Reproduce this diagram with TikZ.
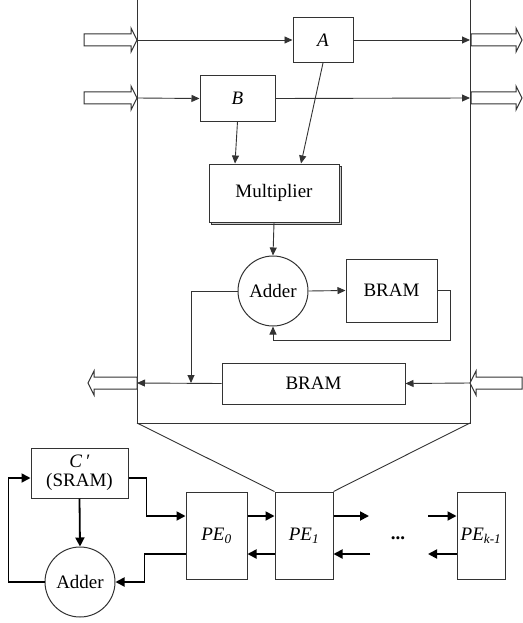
\documentclass[tikz,border=0pt]{standalone}
\usepackage{fontspec}
\setmainfont{Liberation Serif}
\usetikzlibrary{arrows.meta,positioning,calc,shadows}
\tikzset{
  box/.style   = {draw=black!80, line width=1pt, fill=white, inner sep=0pt,
                  font=\fontsize{19}{21}\selectfont},
  adder/.style = {box, circle, minimum size=70pt},
  wire/.style  = {line width=0.9pt, draw=black!80},
  arr/.style   = {wire, -{Triangle[length=8pt,width=7pt]}},
  barr/.style  = {line width=1.8pt, -{Triangle[length=9pt,width=9pt]}},
  fat/.style   = {draw=black!80, line width=1pt, fill=white},
}
% hollow port arrow: tip x, tip y, direction (1 or -1), length
\newcommand{\fatarrow}[4]{%
  \draw[fat,shift={(#1,#2)},xscale=#3] (0,0) -- (-6,-12) -- (-6,-6) -- (-#4,-6)
    -- (-#4,6) -- (-6,6) -- (-6,12) -- cycle;}

\begin{document}
\begin{tikzpicture}[x=1pt,y=-1pt]
  \useasboundingbox (0,0) rectangle (522,623);
  % one PE, zoomed
  \draw[wire] (137,0) -- (137,423) -- (470,423) -- (470,0);
  \node[box, minimum width=60pt, minimum height=45pt] (A) at (323,40) {\textit{A}};
  \node[box, minimum width=75pt, minimum height=45pt] (B) at (237.5,98.5) {\textit{B}};
  \node[box, minimum width=130pt, minimum height=58pt,
        copy shadow={shadow xshift=2.5pt, shadow yshift=-2.5pt, fill=gray!40}] (mult) at (274,193) {Multiplier};
  \node[adder] (add) at (273,291) {Adder};
  \node[box, minimum width=91pt, minimum height=63pt] (bram) at (391.5,290.5) {BRAM};
  \node[box, minimum width=183pt, minimum height=41pt] (obram) at (313.5,383.5) {BRAM};
  \coordinate (inA) at (137,40);   \coordinate (outA) at (470,40);
  \coordinate (inB) at (137,98);   \coordinate (outB) at (470,98);
  \coordinate (inC) at (470,383);  \coordinate (outC) at (137,383);
  \coordinate (tap) at (191,383);
  \fatarrow{137}{40}{1}{53}
  \fatarrow{137}{98}{1}{53}
  \fatarrow{522}{40}{1}{51}
  \fatarrow{522}{98}{1}{51}
  \fatarrow{88}{383}{-1}{49}
  \fatarrow{470}{383}{-1}{52}
  \draw[arr] (inA) -- (A.west);
  \draw[arr] (A.east) -- (outA);
  \draw[arr] (inB) -- (B.west);
  \draw[arr] (B.east) -- (outB);
  \draw[arr] (B.south) -- ([xshift=-39pt]mult.north);
  \draw[arr] (A.south) -- ([xshift=27pt]mult.north);
  \draw[arr] (mult.south) -- (add.north);
  \draw[arr] (add.east) -- (bram.west);
  \draw[arr] (bram.east) -- ++(13,0) -- ++(0,50) -| (add.south);
  \draw[arr] (add.west) -| (tap);
  \draw[arr] (inC) -- (obram.east);
  \draw[arr] (obram.west) -- (outC);
  % PE array
  \node[box, minimum width=97pt, minimum height=50pt, align=center] (csram) at (79.5,473)
    {\textit{C\,′}\\[-2pt](SRAM)};
  \node[adder] (acc) at (80,582) {Adder};
  \node[box, minimum width=61pt, minimum height=87pt] (pe0) at (216.5,535.5) {\textit{PE\textsubscript{0}}};
  \node[box, minimum width=58pt, minimum height=87pt] (pe1) at (304,535.5) {\textit{PE\textsubscript{1}}};
  \node[box, minimum width=48pt, minimum height=87pt] (pek) at (481,535.5) {\textit{PE\textsubscript{k-1}}};
  \node[font=\fontsize{19}{21}\selectfont\bfseries] (dots) at (398,538) {...};
  \draw[wire] (137,423) -- (pe1.north west);
  \draw[wire] (470,423) -- (pe1.north east);
  \coordinate (r1) at (369,516);  \coordinate (r2) at (370,554);
  \coordinate (r3) at (428,516);  \coordinate (r4) at (428,554);
  \draw[barr] (csram.south) -- (acc.north);
  \draw[barr] (acc.west) -- ++(-36,0) |- ([yshift=-5pt]csram.west);
  \draw[barr] ([yshift=-5pt]csram.east) -- ++(18,0) |- ([yshift=19.5pt]pe0.west);
  \draw[barr] ([yshift=-18.5pt]pe0.west) -- ++(-41,0) |- (acc.east);
  \draw[barr] ([yshift=19.5pt]pe0.east) -- ([yshift=19.5pt]pe1.west);
  \draw[barr] ([yshift=-18.5pt]pe1.west) -- ([yshift=-18.5pt]pe0.east);
  \draw[barr] ([yshift=19.5pt]pe1.east) -- (r1);
  \draw[barr] (r2) -- ([yshift=-18.5pt]pe1.east);
  \draw[barr] (r3) -- ([yshift=19.5pt]pek.west);
  \draw[barr] ([yshift=-18.5pt]pek.west) -- (r4);
\end{tikzpicture}
\end{document}
